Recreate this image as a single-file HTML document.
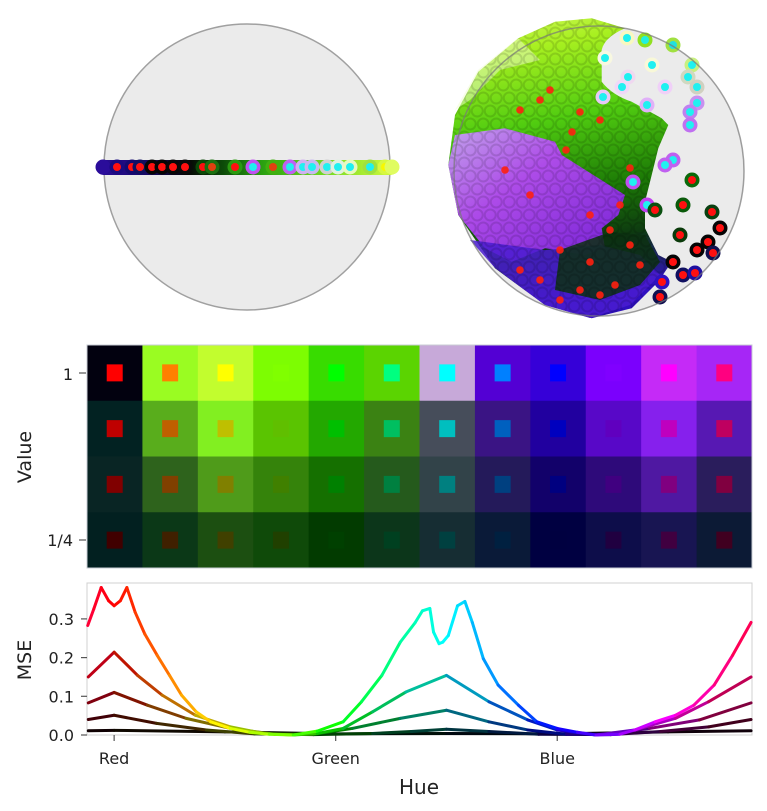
<!DOCTYPE html>
<html><head><meta charset="utf-8">
<style>
html,body{margin:0;padding:0;background:#fff;}
body{width:767px;height:811px;overflow:hidden;font-family:"DejaVu Sans","Liberation Sans",sans-serif;}
svg{position:absolute;left:0;top:0;}
text{font-family:"DejaVu Sans","Liberation Sans",sans-serif;fill:#222;}
</style></head>
<body>
<svg id="fig" width="767" height="811" viewBox="0 0 767 811">
<defs>
<linearGradient id="bandGrad" x1="0" x2="1" y1="0" y2="0">
<stop offset="0" stop-color="#2a0c9a"/><stop offset="0.15" stop-color="#1a0a70"/><stop offset="0.3" stop-color="#050505"/>
<stop offset="0.42" stop-color="#0c4a08"/><stop offset="0.55" stop-color="#2aa010"/><stop offset="0.75" stop-color="#70d820"/>
<stop offset="1" stop-color="#d8fc40"/></linearGradient>
<linearGradient id="cloudGrad" x1="0" x2="0.15" y1="0" y2="1">
<stop offset="0" stop-color="#d4f860"/><stop offset="0.15" stop-color="#a8f020"/><stop offset="0.4" stop-color="#50cc10"/>
<stop offset="0.65" stop-color="#1c7a06"/><stop offset="0.82" stop-color="#0d3a10"/><stop offset="1" stop-color="#3010c0"/></linearGradient>
<linearGradient id="purpGrad" x1="0" x2="1" y1="0" y2="1">
<stop offset="0" stop-color="#c8a0f8"/><stop offset="0.4" stop-color="#b448f4"/><stop offset="1" stop-color="#7a20e0"/></linearGradient>
<clipPath id="cloudClip"><path d="M591.7,18.3 L625,28.3 Q598,40 601.7,58.3 L601.7,81.7 Q612,95 631.7,101.7 L661.7,118.3 L668.3,125 L658.3,148.3 L651.7,175 L645,201.7 L645,228.3 L658.3,255 L671.7,261.7 L658.3,281.7 L631.7,308.3 L591.7,318.3 L545,305 L495,268.3 L458.3,215 L448.3,165 L455,115 L478.3,71.7 L518.3,38.3 L555,21.7 Z"/></clipPath>
</defs>

<g>
<circle cx="247" cy="167" r="143" fill="#ebebeb" stroke="#a0a0a0" stroke-width="1.5"/>
<rect x="96" y="160" width="302" height="15" rx="7.5" fill="url(#bandGrad)"/>
<g id="leftDots"></g>
</g>

<g>
<circle cx="599" cy="171" r="145" fill="#ebebeb"/>
<path fill="url(#cloudGrad)" d="M591.7,18.3 L625,28.3 Q598,40 601.7,58.3 L601.7,81.7 Q612,95 631.7,101.7 L661.7,118.3 L668.3,125 L658.3,148.3 L651.7,175 L645,201.7 L645,228.3 L658.3,255 L671.7,261.7 L658.3,281.7 L631.7,308.3 L591.7,318.3 L545,305 L495,268.3 L458.3,215 L448.3,165 L455,115 L478.3,71.7 L518.3,38.3 L555,21.7 Z"/>
<path d="M455,135 L505,128.3 L555,141.7 L561.7,155 L625,195 L618.3,215 L601.7,228.3 L605,248.3 L585,255 L545,248.3 L511.7,261.7 L485,248.3 L458.3,215 L448.3,165 Z" fill="url(#purpGrad)" opacity="0.95"/>
<path d="M470,240 L545,250 L600,245 L640,255 L660,275 L630,305 L590,318 L545,305 L495,268 Z" fill="#4a1cd0" opacity="0.85"/>
<path d="M560,250 L610,232 L645,235 L660,262 L640,285 L600,300 L555,290 Z" fill="#0c3010" opacity="0.85"/>
<path d="M455,110 L478,70 L518,38 L540,60 L500,70 L470,100 Z" fill="#f0fcd0" opacity="0.5"/>
<g id="texture" clip-path="url(#cloudClip)"></g>
<g id="rightDots"></g>
<circle cx="599" cy="171" r="145" fill="none" stroke="#777" stroke-opacity="0.7" stroke-width="1.5"/>
</g>

<g id="grid"></g>
<g>
<line x1="79" x2="86" y1="373" y2="373" stroke="#555" stroke-width="1.2"/>
<line x1="79" x2="86" y1="540" y2="540" stroke="#555" stroke-width="1.2"/>
<text x="73" y="380" font-size="16" text-anchor="end">1</text>
<text x="73" y="546" font-size="16" text-anchor="end">1/4</text>
<text transform="translate(31,457) rotate(-90)" font-size="19" text-anchor="middle">Value</text>
</g>

<g id="mse">
<rect x="87" y="583" width="665" height="152" fill="none" stroke="#d0d0d0" stroke-width="1"/>
<g id="mseAxes"></g>
<g id="mseLines"></g>
<text transform="translate(31,660) rotate(-90)" font-size="19" text-anchor="middle">MSE</text>
<text x="419" y="794" font-size="20" text-anchor="middle">Hue</text>
</g>
</svg>

<script>
var NS="http://www.w3.org/2000/svg";
function mk(tag,attrs,parent){var e=document.createElementNS(NS,tag);for(var k in attrs)e.setAttribute(k,attrs[k]);parent.appendChild(e);return e;}

var leftX=[103,117,132,140,152,162,173,185,203,212,235,253,273,290,303,312,327,338,350,370,385,392];
var leftRing=["#2a0c9a","#1a0a80","#140a70","#101060","#060606","#050505","#080808","#0a0a0a","#0c4a08","#1a7010","#2a9a10","#c050f0","#40b010","#c060f0","#d0b0f0","#c8b8f0","#d0d0d0","#e0f0e0","#e8f8c0","#a0e040","#d8f840","#e0fc60"];
var leftInner=["","#ff1010","#ff1010","#ff1010","#ff1010","#ff1010","#ff1010","#ff1010","#ff1010","#e04010","#ff1010","#20f0f0","#e04010","#20f0f0","#20f0f0","#20f0f0","#20f0f0","#20f0f0","#20f0f0","#20f0f0","#f8f800",""];
var gL=document.getElementById("leftDots");
for(var i=0;i<leftX.length;i++){
  var c=mk("circle",{cx:leftX[i],cy:167,r:7.5,fill:leftRing[i]},gL);
  
  
  if(leftInner[i]){var d=mk("circle",{cx:leftX[i],cy:167,r:4,fill:leftInner[i]},gL);
  
  }
}

// texture lattice of faint rings within cloud
var gT=document.getElementById("texture");
for(var yy=20;yy<320;yy+=13){for(var xx=448+((yy/13)%2)*6;xx<672;xx+=13){
  var t=mk("circle",{cx:xx,cy:yy,r:5.5,fill:"none",stroke:"#000","stroke-opacity":0.12,"stroke-width":2},gT);
  
  
}}

var rX=[627,645,673,605,652,692,688,697,665,628,622,603,647,697,690,690,673,665,633,647,692,683,655,712,720,680,708,697,713,673,683,695,660,662];
var rY=[38,40,45,58,65,65,77,87,87,77,87,97,105,103,112,125,160,165,182,205,180,205,210,212,228,235,242,250,253,262,275,273,297,282];
var rRing=["#f8f8c0","#90e020","#a0e040","#f8f8e0","#f8f8d8","#c8f080","#d0d8c0","#d0d0c0","#f0d0f8","#f0d8f0","#f0d8f8","#e8c8f8","#e0b0f8","#c890f0","#c080f0","#c070f0","#c060f0","#c060f0","#c050f0","#c040f0","#0a6a0a","#0a5a0a","#0a5010","#0a4010","#050505","#0a3a0a","#050505","#050505","#101050","#050505","#101060","#2010a0","#101050","#3010c0"];
var rInner=["#20f0f0","#20f0e0","#20e0e0","#20f0f0","#20f0f0","#20f0f0","#20f0f0","#20f0f0","#20f0f0","#20f0f0","#20f0f0","#20f0f0","#20f0f0","#20f0f0","#20f0f0","#20f0f0","#20f0f0","#20f0f0","#20f0f0","#20f0f0","#ff1010","#ff1010","#ff1010","#ff1010","#ff1010","#ff1010","#ff1010","#ff1010","#ff1010","#ff1010","#ff1010","#ff1010","#ff1010","#ff1010"];
var gR=document.getElementById("rightDots");
for(var i=0;i<rX.length;i++){
  var c=mk("circle",{cx:rX[i],cy:rY[i],r:7.5,fill:rRing[i]},gR);
  
  
  var d=mk("circle",{cx:rX[i],cy:rY[i],r:4,fill:rInner[i]},gR);
  
  
}
var cX=[580,572,600,566,550,540,520,505,530,610,590,560,630,640,615,600,580,560,540,520,590,620,630];
var cY=[112,132,120,150,90,100,110,170,195,230,262,250,245,265,285,295,290,300,280,270,215,205,168];
for(var i=0;i<cX.length;i++){
  var d=mk("circle",{cx:cX[i],cy:cY[i],r:3.8,fill:"#ff2010",opacity:0.9},gR);
  
  
}

var gridValues=["1","3/4","1/2","1/4"];
var gridHues=[0,30,60,90,120,150,180,210,240,270,300,330];
var gridBg=[
["#02010f","#9afc22","#c2fd2e","#7dfd02","#38dc00","#5bd401","#c7a9d9","#5300d4","#3600d8","#7b00fd","#c52af7","#a626f6"],
["#022222","#59ad1c","#82ef21","#5ac401","#23a800","#3b8213","#464d5a","#3a1484","#21009f","#5808c8","#8620ed","#5718b3"],
["#092524","#2e631c","#4f9b1a","#35830b","#157000","#255a1c","#324349","#241a5a","#12016a","#2e0a7a","#4f18a2","#2a1d5c"],
["#022020","#0b3817","#1c4f11","#0f4a09","#023b00","#0c361a","#162d33","#0a1a38","#000041","#0d0d4a","#181552","#0c1a35"]];
var gridV=[1,0.75,0.5,0.25];
function hsv(h,s,v){h=((h%360)+360)%360;var c=v*s,x=c*(1-Math.abs((h/60)%2-1)),m=v-c,r,g,b;
 if(h<60){r=c;g=x;b=0}else if(h<120){r=x;g=c;b=0}else if(h<180){r=0;g=c;b=x}else if(h<240){r=0;g=x;b=c}else if(h<300){r=x;g=0;b=c}else{r=c;g=0;b=x}
 return "rgb("+Math.round((r+m)*255)+","+Math.round((g+m)*255)+","+Math.round((b+m)*255)+")";}
var gG=document.getElementById("grid");
var gx0=87,gx1=752,gy0=345,gy1=568,cw=(gx1-gx0)/gridHues.length,rh=(gy1-gy0)/gridV.length;
for(var r=0;r<gridV.length;r++)for(var c=0;c<gridHues.length;c++){
  var cell=mk("rect",{x:gx0+c*cw,y:gy0+r*rh,width:cw+0.5,height:rh+0.5,fill:gridBg[r][c]},gG);
  
  
  var sq=mk("rect",{x:gx0+c*cw+cw/2-8,y:gy0+r*rh+rh/2-8.5,width:16,height:17,fill:hsv(gridHues[c],1,gridV[r])},gG);
  
  
}
var fr=mk("rect",{x:gx0,y:gy0,width:gx1-gx0,height:gy1-gy0,fill:"none",stroke:"#c8ccd4","stroke-width":1},gG);



var xTickLabels=["Red","Green","Blue"];
var xTickHues=[0,120,240];
var yTickVals=[0,0.1,0.2,0.3];
var yTickLabels=["0.0","0.1","0.2","0.3"];
var seriesValue=[1,0.75,0.5,0.25,0.06];
var hue1=[-14.3,-11,-7,-3,0,3.4,6.9,11.4,16.6,23.3,30,36.5,44.4,52.3,62.9,73.5,84,97,110,124,134,145,155,163,167,171,173,176,178,181,186,190,194,200,208,219,229,240,251,261,274,282,293,304,314,325,335,345];
var mse1=[0.283,0.326,0.381,0.347,0.334,0.347,0.381,0.317,0.261,0.206,0.154,0.103,0.06,0.034,0.017,0.007,0.002,0,0.01,0.034,0.086,0.154,0.24,0.29,0.321,0.327,0.266,0.236,0.24,0.257,0.334,0.345,0.291,0.197,0.129,0.077,0.034,0.017,0.007,0,0.002,0.013,0.034,0.051,0.077,0.129,0.206,0.291];
var hue2=[-14,0,12.7,26,44,63,81,97,110,124,140,158,180,203,224,240,261,282,304,322,345];
var mse2=[0.15,0.214,0.154,0.103,0.051,0.021,0.004,0,0.004,0.017,0.06,0.111,0.154,0.086,0.039,0.013,0,0.013,0.043,0.086,0.15];
var hue3=[-14,0,18,39,63,87,108,129,155,180,203,224,245,266,290,317,345];
var mse3=[0.083,0.11,0.077,0.043,0.017,0.002,0.002,0.017,0.043,0.064,0.034,0.013,0.002,0.002,0.017,0.039,0.083];
var hue4=[-14,0,23,50,76,108,140,161,180,203,230,269,296,322,345];
var mse4=[0.04,0.051,0.03,0.013,0.003,0.001,0.004,0.009,0.015,0.009,0.002,0.001,0.009,0.021,0.04];
var hue5=[-14,0,60,120,180,240,300,345];
var mse5=[0.011,0.012,0.008,0.003,0.004,0.003,0.008,0.011];
var seriesHues=[hue1,hue2,hue3,hue4,hue5];
var seriesMse=[mse1,mse2,mse3,mse4,mse5];

var px0=87,px1=752,py0=735,hueMin=-14.7,hueMax=345.5,yPerUnit=387;
function xScale(h){return px0+(h-hueMin)/(hueMax-hueMin)*(px1-px0);}
function yScale(v){return py0-v*yPerUnit;}
var gA=document.getElementById("mseAxes");
for(var i=0;i<yTickVals.length;i++){
  var y=yScale(yTickVals[i]);
  var t=mk("line",{x1:81,x2:87,y1:y,y2:y,stroke:"#555","stroke-width":1.2},gA);
  
  
  var l=mk("text",{x:74,y:y+6,"font-size":16,"text-anchor":"end"},gA);
  l.textContent=yTickLabels[i];
  
  
}
for(var i=0;i<xTickHues.length;i++){
  var x=xScale(xTickHues[i]);
  var t=mk("line",{x1:x,x2:x,y1:735,y2:741,stroke:"#555","stroke-width":1.2},gA);
  
  
  var l=mk("text",{x:x,y:764,"font-size":16,"text-anchor":"middle"},gA);
  l.textContent=xTickLabels[i];
  
  
}
var gM=document.getElementById("mseLines");
for(var s=seriesHues.length-1;s>=0;s--){
  var H=seriesHues[s],M=seriesMse[s];
  var g=mk("g",{},gM);
  
  
  for(var i=0;i<H.length-1;i++){
    var seg=mk("line",{x1:xScale(H[i]),y1:yScale(M[i]),x2:xScale(H[i+1]),y2:yScale(M[i+1]),stroke:hsv((H[i]+H[i+1])/2,1,seriesValue[s]),"stroke-width":3,"stroke-linecap":"round"},g);
    
    
  }
}
</script>
</body></html>
